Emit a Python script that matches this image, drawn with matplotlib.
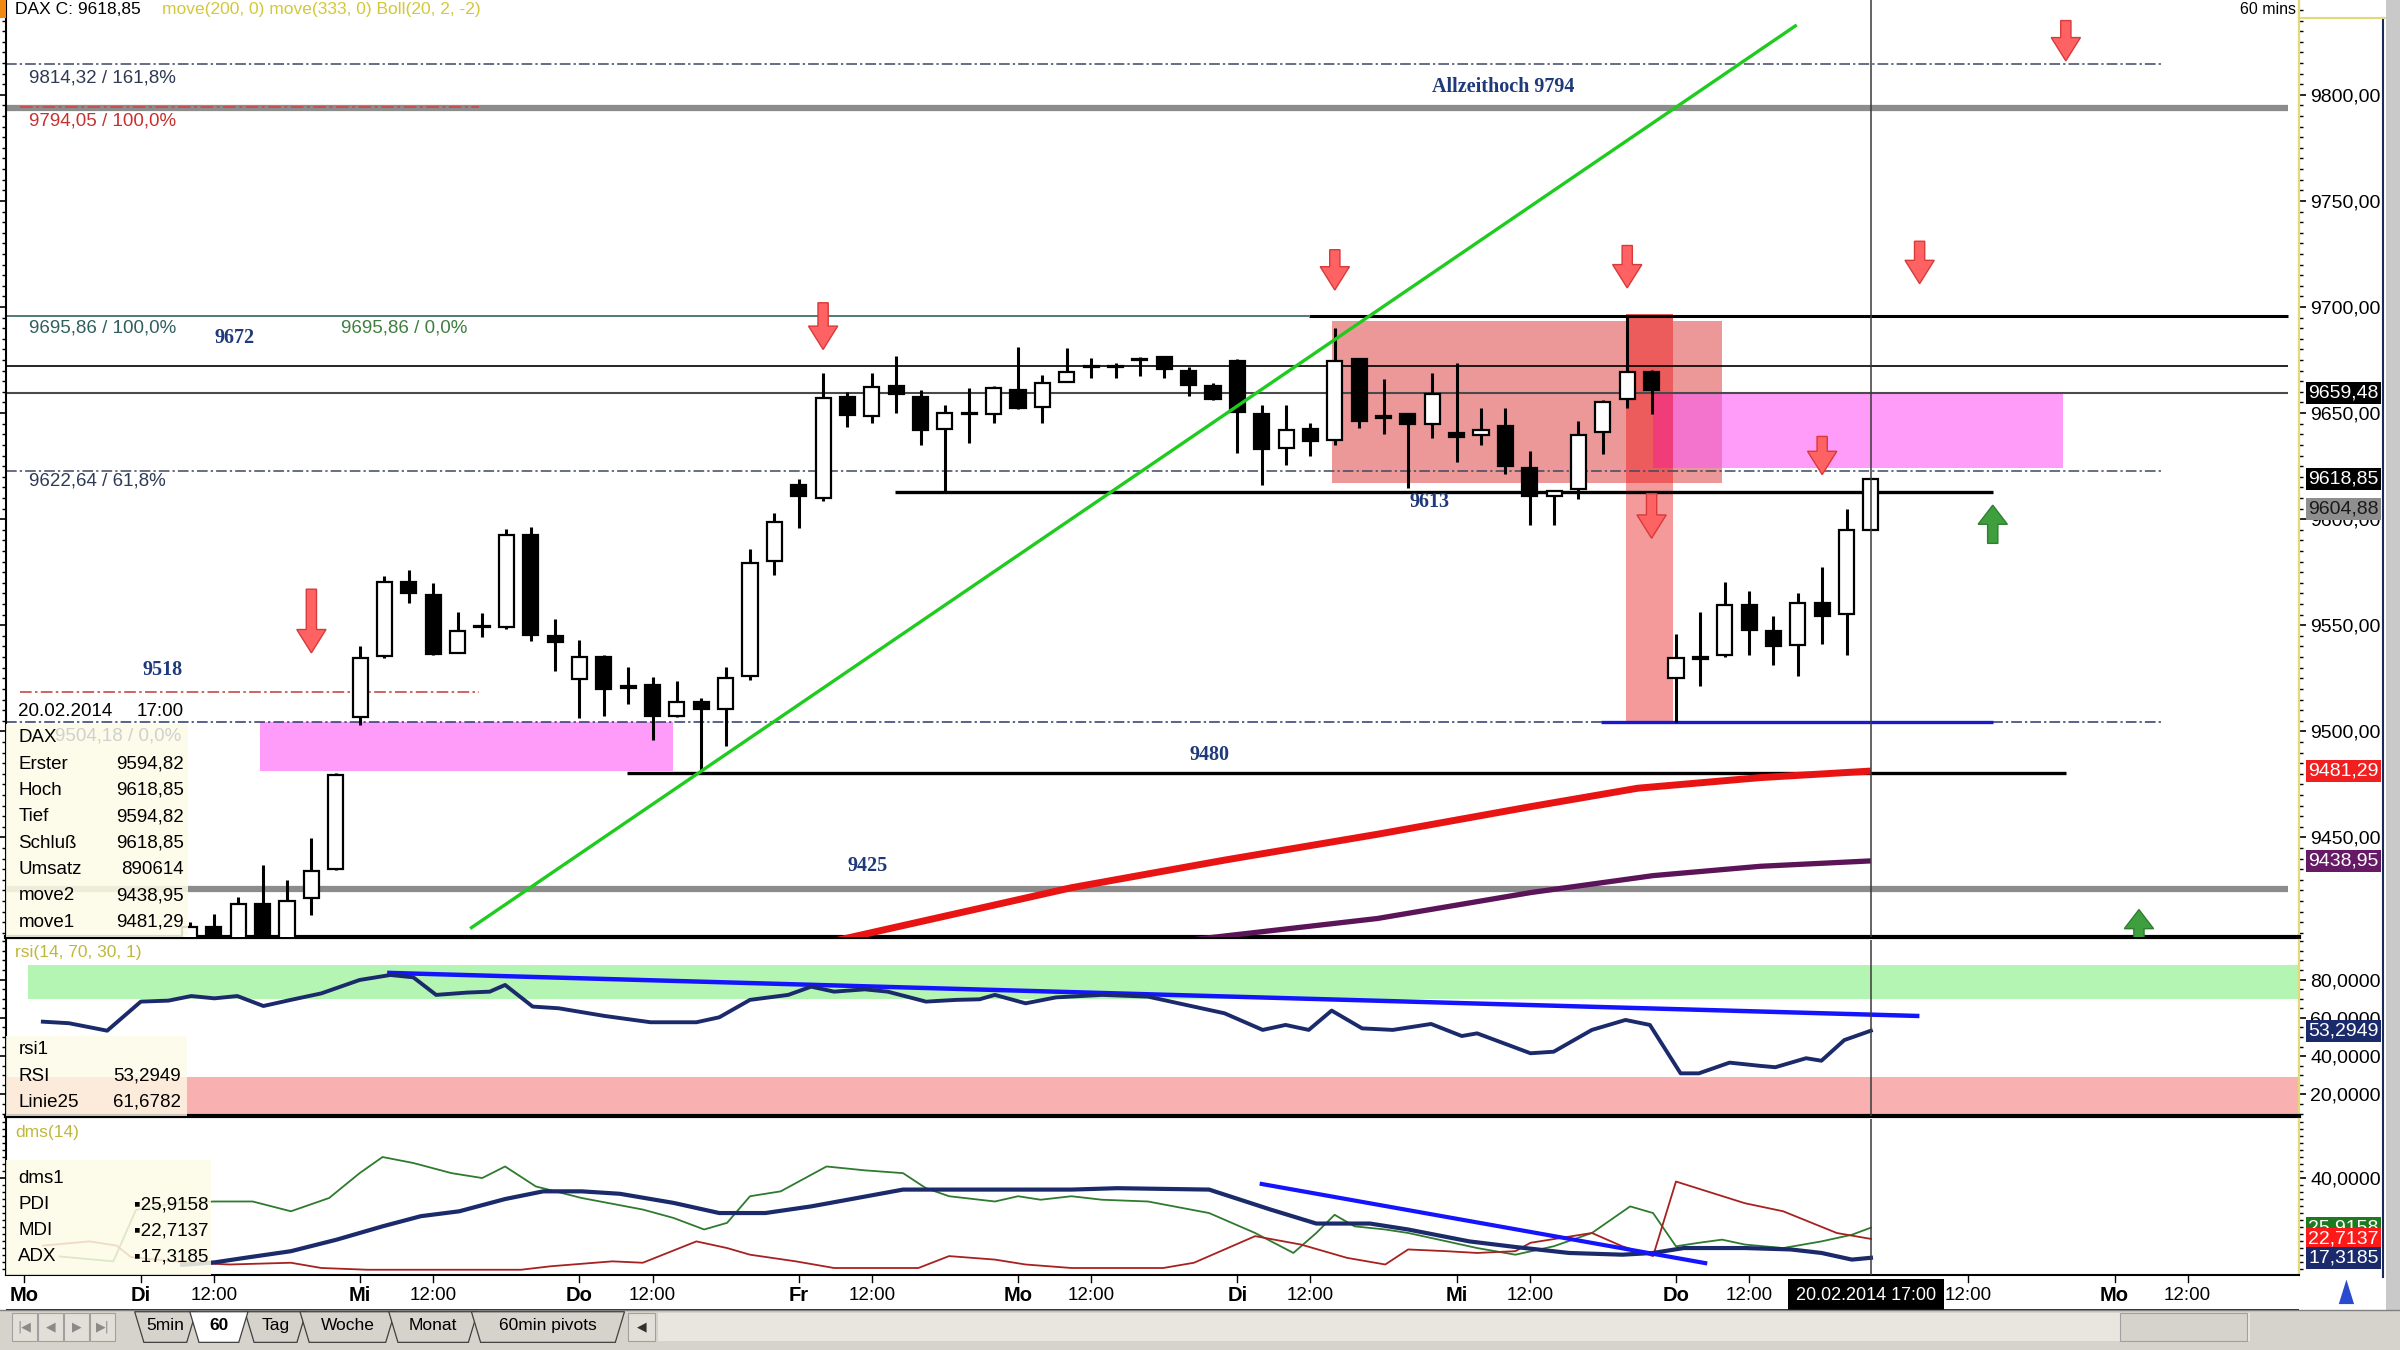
import matplotlib
matplotlib.use("Agg")
import numpy as np
import matplotlib.pyplot as plt
from matplotlib.patches import Rectangle, FancyArrow, Polygon
from matplotlib.ticker import MultipleLocator, FuncFormatter

plt.rcParams['font.family'] = ['Liberation Sans', 'DejaVu Sans']

# ---- values -------------------------------------------------------------
# hourly DAX candles, bar 9 = Tuesday 9:00, nine bars per trading day
bar_idx = list(range(11, 81))
opens = [9402, 9408, 9400, 9418.7, 9399, 9421.3, 9435.0, 9507.0, 9535.7, 9570.6,
         9564.3, 9536.8, 9549.0, 9549.1, 9592.6, 9545.1, 9524.6, 9535.2, 9520.5, 9521.9,
         9507.4, 9514.0, 9510.4, 9526.1, 9580.3, 9616.0, 9610.1, 9657.7, 9648.6, 9662.7,
         9657.7, 9642.3, 9649.6, 9649.4, 9660.9, 9653.0, 9664.8, 9672.2, 9672.2, 9675.6,
         9676.3, 9670.0, 9662.7, 9674.5, 9649.4, 9633.4, 9642.5, 9637.3, 9675.3, 9647.5,
         9649.4, 9644.8, 9640.8, 9639.6, 9643.9, 9624.2, 9610.9, 9614.3, 9641.0, 9656.7,
         9669.6, 9525.1, 9534.0, 9535.8, 9559.7, 9547.2, 9540.5, 9560.4, 9555.1, 9594.82]
highs = [9410, 9414, 9422, 9437, 9430, 9449.6, 9480.3, 9540.4, 9573.3, 9576.1,
         9569.8, 9556.4, 9555.7, 9595.4, 9596.2, 9553.0, 9543.1, 9536.0, 9530.1, 9525.5,
         9523.8, 9515.6, 9530.1, 9585.8, 9602.8, 9619.0, 9669.0, 9660.1, 9669.0, 9677.0,
         9660.9, 9653.8, 9662.0, 9662.8, 9681.3, 9667.9, 9680.5, 9676.1, 9673.5, 9676.6,
         9677.0, 9671.9, 9664.0, 9675.3, 9653.8, 9653.8, 9645.2, 9690.2, 9676.0, 9665.9,
         9649.4, 9669.0, 9673.4, 9652.2, 9652.3, 9632.1, 9613.1, 9646.5, 9656.3, 9695.2,
         9670.1, 9545.7, 9556.2, 9570.3, 9566.1, 9554.6, 9565.2, 9577.4, 9604.9, 9618.85]
lows = [9398, 9396, 9396, 9395, 9396, 9413.5, 9434.7, 9503.0, 9534.8, 9560.4,
        9536.0, 9536.8, 9544.3, 9548.1, 9542.6, 9528.5, 9506.2, 9507.3, 9512.8, 9496.0,
        9507.0, 9480.7, 9493.3, 9524.2, 9573.7, 9596.0, 9608.6, 9643.6, 9645.5, 9649.9,
        9635.0, 9613.0, 9635.7, 9645.5, 9652.0, 9645.5, 9664.5, 9666.7, 9666.7, 9667.6,
        9666.7, 9658.0, 9656.0, 9631.3, 9616.1, 9625.5, 9629.8, 9634.9, 9642.8, 9640.0,
        9614.5, 9638.4, 9627.1, 9634.9, 9621.4, 9597.4, 9597.4, 9609.6, 9630.8, 9652.3,
        9649.7, 9504.4, 9521.6, 9535.0, 9535.8, 9531.1, 9525.9, 9541.3, 9535.8, 9594.82]
closes = [9408, 9400, 9418.7, 9398, 9420, 9434.4, 9479.5, 9534.8, 9570.6, 9565.1,
          9536.3, 9547.3, 9549.8, 9592.6, 9545.5, 9542.0, 9534.9, 9520.0, 9521.5, 9507.4,
          9514.0, 9510.4, 9525.2, 9579.2, 9598.9, 9611.0, 9656.9, 9649.1, 9662.4, 9659.0,
          9642.0, 9650.2, 9650.2, 9661.7, 9652.5, 9664.3, 9669.5, 9671.8, 9671.6, 9675.0,
          9670.6, 9663.2, 9656.6, 9650.3, 9633.1, 9642.0, 9636.8, 9674.5, 9646.3, 9648.5,
          9644.8, 9658.8, 9638.6, 9642.0, 9625.0, 9610.7, 9613.1, 9639.8, 9655.2, 9669.3,
          9660.7, 9534.5, 9535.0, 9559.7, 9548.0, 9540.2, 9560.4, 9554.3, 9594.7, 9618.85]

# moving averages move1 (red) and move2 (purple)
ma1_x = [37.0, 47.19, 53.47, 59.75, 66.03, 70.43, 75.46, 80.0]
ma1_y = [9400.0, 9426.3, 9439.3, 9451.5, 9464.5, 9473.2, 9478.2, 9481.29]
ma2_x = [52.3, 59.75, 66.03, 71.06, 75.46, 80.0]
ma2_y = [9402.0, 9411.8, 9424.0, 9432.0, 9436.4, 9438.95]

# hand drawn green trend line
trend_x = [22.57, 76.9]
trend_y = [9407.5, 9832.5]

# RSI(14)
rsi_x = [4.98, 6.05, 7.62, 9.0, 10.13, 11.07, 12.02, 12.96, 14.03, 15.16,
         16.41, 17.98, 19.24, 20.18, 21.12, 22.38, 23.32, 23.95, 25.08, 26.15,
         28.03, 29.92, 31.8, 32.74, 34.0, 35.57, 36.51, 37.45, 38.71, 39.65,
         41.22, 42.48, 43.42, 44.05, 45.31, 46.56, 48.45, 50.33, 51.59, 53.47,
         55.04, 55.98, 56.93, 57.87, 59.12, 60.38, 61.95, 63.21, 63.84, 66.03,
         66.98, 68.55, 69.93, 70.93, 72.19, 72.94, 74.2, 75.46, 76.08, 77.34,
         77.97, 78.91, 80.0]
rsi_y = [58.0, 57.2, 53.3, 68.5, 69.0, 71.4, 70.2, 71.4, 66.2, 69.4,
         72.8, 79.8, 82.4, 81.2, 72.0, 73.2, 73.7, 77.2, 65.9, 65.0,
         61.0, 57.7, 57.7, 60.3, 69.4, 72.0, 76.3, 73.7, 74.9, 73.7,
         68.5, 69.4, 69.7, 72.0, 67.6, 70.7, 72.0, 71.1, 67.6, 62.4,
         53.7, 56.3, 53.7, 63.8, 54.5, 53.7, 56.8, 50.5, 51.9, 41.5,
         42.3, 53.7, 58.9, 56.3, 31.0, 31.0, 36.6, 34.9, 34.2, 38.9,
         37.6, 48.4, 53.29]
rsi_line_x = [19.2, 81.9]
rsi_line_y = [83.5, 61.0]

# DMS(14): ADX, PDI, MDI
adx_x = [10.7, 12.02, 13.27, 15.16, 17.04, 18.92, 20.49, 22.07, 23.95, 25.52,
         27.09, 28.66, 30.86, 32.74, 34.63, 36.51, 38.4, 40.28, 42.17, 47.19,
         49.07, 52.84, 55.36, 57.24, 59.44, 61.01, 63.52, 65.41, 67.61, 69.8,
         71.06, 72.32, 74.83, 76.71, 77.97, 79.22, 80.0]
adx_y = [15.3, 16.0, 17.3, 19.2, 22.5, 26.3, 29.2, 30.6, 34.1, 36.3,
         36.3, 35.6, 33.0, 30.1, 30.1, 32.0, 34.4, 36.8, 36.8, 36.8,
         37.2, 36.8, 31.1, 27.1, 27.1, 25.4, 22.0, 20.4, 18.7, 18.2,
         18.7, 20.1, 20.1, 19.7, 18.7, 16.8, 17.32]
pdi_x = [5.67, 7.87, 8.8, 10.5, 12.02, 13.59, 15.16, 16.73, 17.98, 18.92,
         20.18, 21.75, 23.01, 23.95, 25.21, 27.09, 29.6, 30.86, 32.12, 33.06,
         34.0, 35.26, 37.14, 38.71, 40.28, 41.22, 42.17, 44.05, 45.0, 45.93,
         47.19, 48.45, 50.33, 52.84, 54.73, 56.3, 57.24, 57.99, 58.81, 60.07,
         61.01, 62.27, 63.84, 65.41, 66.98, 68.55, 70.12, 71.06, 72.0, 72.94,
         73.89, 74.83, 76.4, 77.97, 79.22, 80.0]
pdi_y = [17.7, 16.3, 31.0, 33.0, 33.4, 33.4, 30.6, 34.4, 41.5, 46.1,
         44.4, 41.5, 40.1, 43.4, 37.7, 34.4, 31.1, 28.7, 25.4, 27.3,
         34.9, 36.3, 43.4, 42.3, 41.5, 37.2, 34.9, 33.4, 34.9, 33.9,
         34.9, 33.9, 33.4, 30.1, 24.4, 18.7, 24.4, 29.6, 26.3, 25.4,
         24.4, 22.5, 20.1, 18.2, 20.6, 24.4, 32.0, 30.1, 20.6, 21.6,
         22.5, 21.1, 20.1, 22.0, 23.9, 25.92]
mdi_x = [4.98, 6.9, 8.0, 8.6, 10.8, 12.64, 15.16, 16.41, 18.3, 24.6,
         25.83, 28.35, 29.6, 31.8, 33.06, 34.0, 35.88, 37.45, 40.91, 42.17,
         44.05, 45.31, 47.19, 50.96, 52.22, 54.73, 56.61, 58.5, 60.07, 61.01,
         62.58, 63.84, 65.41, 66.03, 67.29, 68.55, 69.8, 71.06, 72.0, 74.83,
         76.4, 78.6, 80.0]
mdi_y = [20.8, 22.0, 20.8, 17.5, 16.0, 15.4, 15.9, 14.4, 13.9, 13.9,
         14.9, 16.3, 15.9, 22.0, 20.1, 18.2, 16.3, 14.4, 14.4, 17.8,
         16.8, 15.4, 14.4, 14.4, 15.9, 23.5, 21.1, 17.3, 15.4, 19.7,
         19.2, 18.7, 19.2, 21.6, 23.0, 24.4, 20.6, 17.8, 39.1, 32.9,
         30.6, 24.4, 22.71]
dms_line_x = [55.0, 73.2]
dms_line_y = [38.4, 15.8]

# signal arrows: (bar, tail price, tip price)
arrows_down = [(16, 9567, 9537), (37, 9702, 9680), (58, 9727, 9708), (70, 9729, 9709),
               (82, 9731, 9711), (88, 9835, 9816), (71, 9612, 9591), (78, 9639, 9621)]
arrows_up = [(85, 9588.6, 9606.6), (91, 9402, 9416)]

# time axis (the Friday label sits under the cursor box in the screenshot)
time_pos = [4.2, 9, 12, 18, 21, 27, 30, 36, 39, 45, 48, 54, 57, 63, 66, 72, 75, 84, 90, 93]
time_lbl = ['Mo', 'Di', '12:00', 'Mi', '12:00', 'Do', '12:00', 'Fr', '12:00', 'Mo', '12:00',
            'Di', '12:00', 'Mi', '12:00', 'Do', '12:00', '12:00', 'Mo', '12:00']
cursor_bar = 80
cursor_lbl = '20.02.2014 17:00'

info_names = ['DAX', 'Erster', 'Hoch', 'Tief', 'Schluß', 'Umsatz', 'move2', 'move1']
info_vals = ['', '9594,82', '9618,85', '9594,82', '9618,85', '890614', '9438,95', '9481,29']
rsi_names = ['rsi1', 'RSI', 'Linie25']
rsi_vals = ['', '53,2949', '61,6782']
dms_names = ['dms1', 'PDI', 'MDI', 'ADX']
dms_vals = ['', '▪25,9158', '▪22,7137', '▪17,3185']

# ---- layout (pixel positions measured on the 1568 x 882 preview) --------
W, H = 1568.0, 882.0


def frame(x0, y0, x1, y1):
    return [x0 / W, 1 - y1 / H, (x1 - x0) / W, (y1 - y0) / H]


def bar_at(px):
    return 9 + (px - 92.0) / 15.92


XL = (bar_at(4), bar_at(1502))
comma2 = FuncFormatter(lambda v, p: f"{v:.2f}".replace('.', ','))
comma4 = FuncFormatter(lambda v, p: f"{v:.4f}".replace('.', ','))
SERIF = ['Liberation Serif', 'DejaVu Serif']
NAVY = '#1b2a6b'


def style_panel(a):
    a.set_xlim(XL)
    a.set_xticks([])
    a.yaxis.tick_right()
    a.tick_params(axis='y', which='both', direction='out', left=True, right=True,
                  labelleft=False, labelright=True, labelsize=14, pad=3)
    a.tick_params(axis='y', which='major', length=5, width=1.2)
    a.tick_params(axis='y', which='minor', length=3, width=1)
    a.spines['top'].set_visible(False)
    a.spines['right'].set_color('#e3d977')
    a.spines['right'].set_linewidth(1.6)
    a.spines['left'].set_linewidth(1.5)
    a.spines['bottom'].set_linewidth(3)


def value_box(a, y, text, fc, tc='white'):
    a.text(1.004, y, text, transform=a.get_yaxis_transform(), ha='left', va='center',
           fontsize=14, color=tc, clip_on=False, zorder=12,
           bbox=dict(boxstyle='square,pad=0.12', fc=fc, ec='none'))


fig = plt.figure(figsize=(24, 13.5), dpi=100)
fig.patch.set_facecolor('white')

# ---- price panel ---------------------------------------------------------
ax = fig.add_axes(frame(4, 0, 1502, 612))
style_panel(ax)
ax.set_ylim(9403.2, 9844.7)
ax.set_yticks(np.arange(9450, 9801, 50))
ax.yaxis.set_major_formatter(comma2)
ax.yaxis.set_minor_locator(MultipleLocator(5))

# zones
pink = '#ff9bf8'
ax.add_patch(Rectangle((13.9, 9481.5), 30.86 - 13.9, 9504.2 - 9481.5, fc=pink, ec='none', zorder=1))
ax.add_patch(Rectangle((57.87, 9617.0), 73.89 - 57.87, 9693.5 - 9617.0, fc='#ec9898', ec='none', zorder=1))
ax.add_patch(Rectangle((69.93, 9504.2), 71.88 - 69.93, 9617.0 - 9504.2, fc='#f49a9a', ec='none', zorder=1))
ax.add_patch(Rectangle((69.93, 9617.0), 71.88 - 69.93, 9696.5 - 9617.0, fc='#ec5c5c', ec='none', zorder=1.1))
ax.add_patch(Rectangle((71.06, 9624.0), 87.9 - 71.06, 9660.0 - 9624.0, fc=pink, ec='none', zorder=1.2))
ax.add_patch(Rectangle((71.06, 9624.0), 71.88 - 71.06, 9660.0 - 9624.0, fc='#f03c78', ec='none', zorder=1.3))
ax.add_patch(Rectangle((71.88, 9624.0), 73.89 - 71.88, 9660.0 - 9624.0, fc='#f274cc', ec='none', zorder=1.3))

# horizontal levels
dashdot = (0, (7, 2, 1.5, 2))
ax.hlines(9814.32, XL[0], 92, colors='#3a4660', linestyles=dashdot, lw=1.1, zorder=2)
ax.hlines(9794.0, XL[0], 97.1, colors='#8c8c8c', lw=4.5, zorder=2)
ax.hlines(9794.05, 4.04, 22.88, colors='#d04848', linestyles=dashdot, lw=1.3, zorder=2.1)
ax.hlines(9695.86, XL[0], 56.93, colors='#3f6f6f', lw=1.3, zorder=2)
ax.hlines(9695.86, 56.93, 97.1, colors='black', lw=2.2, zorder=2)
ax.hlines(9672.0, XL[0], 97.1, colors='black', lw=1.2, zorder=2)
ax.hlines(9659.48, XL[0], 97.1, colors='#4a4a4a', lw=1.5, zorder=2)
ax.hlines(9622.64, XL[0], 92, colors='#404860', linestyles=dashdot, lw=1.1, zorder=2)
ax.hlines(9613.0, 39.97, 85.0, colors='black', lw=2.4, zorder=2)
ax.hlines(9518.6, 4.04, 22.88, colors='#c84848', linestyles=dashdot, lw=1.2, zorder=2)
ax.hlines(9504.18, XL[0], 92, colors='#2a3a6a', linestyles=dashdot, lw=1.1, zorder=2)
ax.hlines(9504.18, 68.92, 85.0, colors='#1818d0', lw=2.4, zorder=2.1)
ax.hlines(9480.5, 28.97, 88.0, colors='black', lw=2.4, zorder=2)
ax.hlines(9425.5, XL[0], 97.1, colors='#8c8c8c', lw=4.5, zorder=2)

# level labels
ax.text(4.4, 9808, '9814,32 / 161,8%', color='#2f3a55', fontsize=13.5, va='center')
ax.text(4.4, 9787.5, '9794,05 / 100,0%', color='#c83030', fontsize=13.5, va='center')
ax.text(4.4, 9690.3, '9695,86 / 100,0%', color='#2f5f5f', fontsize=13.5, va='center')
ax.text(17.2, 9690.3, '9695,86 / 0,0%', color='#3f7f3f', fontsize=13.5, va='center')
ax.text(4.4, 9618.2, '9622,64 / 61,8%', color='#2f3a55', fontsize=13.5, va='center')
bold_lbls = [(64.9, 9803.5, 'Allzeithoch 9794'), (12.83, 9685.5, '9672'), (61.89, 9608.0, '9613'),
             (9.88, 9529.0, '9518'), (52.84, 9489.0, '9480'), (38.84, 9436.5, '9425')]
for bx, by, txt in bold_lbls:
    ax.text(bx, by, txt, family=SERIF, fontweight='bold', fontsize=14.5, color='#1f3a7a',
            ha='center', va='center', zorder=5)

# moving averages and trend line
ax.plot(ma2_x, ma2_y, color='#5c1458', lw=3.8, zorder=3, solid_capstyle='butt')
ax.plot(ma1_x, ma1_y, color='#e81414', lw=5.0, zorder=3, solid_capstyle='butt')
ax.plot(trend_x, trend_y, color='#1ecb1e', lw=2.4, zorder=6)

# candles
x = np.array(bar_idx)
o = np.array(opens)
c = np.array(closes)
up = c >= o
ax.vlines(x, lows, highs, colors='black', lw=2.2, zorder=4)
ax.bar(x[up], (c - o)[up], bottom=o[up], width=0.62, color='white', edgecolor='black',
       linewidth=1.6, zorder=5)
ax.bar(x[~up], (o - c)[~up], bottom=c[~up], width=0.62, color='black', edgecolor='black',
       linewidth=1.6, zorder=5)

# arrows
for bx, y0, y1 in arrows_down:
    ax.add_patch(FancyArrow(bx, y0, 0, y1 - y0, width=0.42, head_width=1.2, head_length=11,
                            length_includes_head=True, fc='#ff6262', ec='#d83a3a', lw=1, zorder=7))
for bx, y0, y1 in arrows_up:
    ax.add_patch(FancyArrow(bx, y0, 0, y1 - y0, width=0.42, head_width=1.2, head_length=9,
                            length_includes_head=True, fc='#3f9f3f', ec='#2f7f2f', lw=1, zorder=7))

ax.axvline(cursor_bar, color='#3a3a3a', lw=1.1, zorder=8)

value_box(ax, 9659.48, '9659,48', 'black')
value_box(ax, 9618.85, '9618,85', 'black')
value_box(ax, 9604.88, '9604,88', '#8e8e8e', '#1a1a1a')
value_box(ax, 9481.29, '9481,29', '#f02020')
value_box(ax, 9438.95, '9438,95', '#661a66')

# ---- RSI panel -----------------------------------------------------------
ar = fig.add_axes(frame(4, 614, 1502, 729))
style_panel(ar)
ar.set_ylim(8.8, 100.8)
ar.set_yticks([20, 40, 60, 80])
ar.yaxis.set_major_formatter(comma4)
ar.yaxis.set_minor_locator(MultipleLocator(5))
ar.fill_between([bar_at(18), XL[1]], 70, 87.5, color='#b4f5b4', lw=0, zorder=0)
ar.fill_between([XL[0], XL[1]], 8.8, 29, color='#f9b0b0', lw=0, zorder=0)
ar.plot(rsi_line_x, rsi_line_y, color='#1414ff', lw=3.2, zorder=3, clip_on=False)
ar.plot(rsi_x, rsi_y, color=NAVY, lw=2.8, zorder=4)
ar.axvline(cursor_bar, color='#3a3a3a', lw=1.1, zorder=8)
value_box(ar, 53.2949, '53,2949', NAVY)

# ---- DMS panel -----------------------------------------------------------
ad = fig.add_axes(frame(4, 731, 1502, 833))
style_panel(ad)
ad.spines['bottom'].set_linewidth(1.5)
ad.set_ylim(12.4, 57.0)
ad.set_yticks([40])
ad.yaxis.set_major_formatter(comma4)
ad.yaxis.set_minor_locator(MultipleLocator(2))
ad.plot(pdi_x, pdi_y, color='#2e7a2e', lw=1.3, zorder=3)
ad.plot(mdi_x, mdi_y, color='#a82020', lw=1.3, zorder=3)
ad.plot(adx_x, adx_y, color=NAVY, lw=3.0, zorder=4)
ad.plot(dms_line_x, dms_line_y, color='#1414ff', lw=3.0, zorder=5)
ad.axvline(cursor_bar, color='#3a3a3a', lw=1.1, zorder=8)
value_box(ad, 25.9158, '25,9158', '#1e7a1e')
value_box(ad, 22.7137, '22,7137', '#ff1a1a')
value_box(ad, 17.3185, '17,3185', NAVY)

# ---- time axis -----------------------------------------------------------
at = fig.add_axes(frame(4, 833, 1502, 856))
at.set_xlim(XL)
at.set_ylim(0, 1)
at.set_xticks([])
at.set_yticks([])
for s in at.spines.values():
    s.set_visible(False)
at.axhline(1, color='black', lw=1.5)
at.axhline(0, color='black', lw=1.2)
for pos, lab in zip(time_pos, time_lbl):
    at.plot([pos, pos], [1, 0.8], color='black', lw=1)
    is_day = ':' not in lab
    at.text(pos, 0.42, lab, ha='center', va='center', fontsize=14.5 if is_day else 13.5,
            fontweight='bold' if is_day else 'normal')
at.text(cursor_bar - 0.2, 0.42, cursor_lbl, ha='center', va='center', fontsize=13, color='white',
        zorder=6, bbox=dict(boxstyle='square,pad=0.45', fc='black', ec='none'))

# ---- window chrome, info boxes -------------------------------------------
ui = fig.add_axes([0, 0, 1, 1], zorder=20)
ui.set_xlim(0, W)
ui.set_ylim(H, 0)
ui.axis('off')
ui.patch.set_visible(False)

ui.add_patch(Rectangle((0, 0), 4, 12, fc='#f08a10', ec='none'))
ui.text(10, 6, 'DAX C: 9618,85', fontsize=12.5, va='center', color='black')
ui.text(106, 6, 'move(200, 0) move(333, 0) Boll(20, 2, -2)', fontsize=12.5, va='center', color='#d2c83a')
ui.text(1500, 6, '60 mins', fontsize=11.5, va='center', ha='right', color='black')
ui.text(10, 622, 'rsi(14, 70, 30, 1)', fontsize=12.5, va='center', color='#c0b83a')
ui.text(10, 740, 'dms(14)', fontsize=12.5, va='center', color='#c0b83a')

# main info box
ui.text(12, 465, '20.02.2014', fontsize=13.5, va='center')
ui.text(120, 465, '17:00', fontsize=13.5, va='center', ha='right')
ui.add_patch(Rectangle((4, 473), 119, 139, fc='#fdfbe6', ec='none', alpha=0.88))
ui.text(36, 481, '9504,18 / 0,0%', fontsize=13.5, va='center', color='#d0d0d0')
for k, (nm, vl) in enumerate(zip(info_names, info_vals)):
    yy = 482 + k * 17.2
    ui.text(12, yy, nm, fontsize=13.5, va='center')
    ui.text(120, yy, vl, fontsize=13.5, va='center', ha='right')

ui.add_patch(Rectangle((4, 677), 118, 52, fc='#fdfbe6', ec='none', alpha=0.8))
for k, (nm, vl) in enumerate(zip(rsi_names, rsi_vals)):
    yy = 686 + k * 17
    ui.text(12, yy, nm, fontsize=13.5, va='center')
    ui.text(118, yy, vl, fontsize=13.5, va='center', ha='right')

ui.add_patch(Rectangle((4, 758), 134, 75, fc='#fdfbe6', ec='none', alpha=0.85))
for k, (nm, vl) in enumerate(zip(dms_names, dms_vals)):
    yy = 770 + k * 17
    ui.text(12, yy, nm, fontsize=13.5, va='center')
    ui.text(136, yy, vl, fontsize=13.5, va='center', ha='right')

# right edge of the window
ui.plot([1557, 1557], [12, 834], color='#1a2a5a', lw=1.5)
ui.add_patch(Rectangle((1559, 0), 9, H, fc='#c9c9c9', ec='none'))
ui.plot([1502, 1558], [12, 12], color='#e3d977', lw=1.5)
ui.add_patch(Polygon([(1528, 852), (1533, 836), (1538, 852)], closed=True, fc='#2a4ad0', ec='none'))

# tab bar
ui.add_patch(Rectangle((0, 856), W, 26, fc='#d6d3cc', ec='none'))
ui.plot([0, W], [856, 856], color='#808080', lw=1)
for bx, glyph in zip([8, 25, 42, 59], ['|◀', '◀', '▶', '▶|']):
    ui.add_patch(Rectangle((bx, 858), 16, 18, fc='#e2dfd8', ec='#a0a0a0', lw=0.8))
    ui.text(bx + 8, 867, glyph, fontsize=9, ha='center', va='center', color='#8a8a8a',
            family=['DejaVu Sans'])
tabs = [('5min', 88, 128), ('60', 124, 162), ('Tag', 160, 200), ('Woche', 196, 258),
        ('Monat', 254, 312), ('60min pivots', 308, 408)]
for name, x0, x1 in tabs:
    sel = name == '60'
    ui.add_patch(Polygon([(x0, 857), (x1, 857), (x1 - 6, 877), (x0 + 6, 877)], closed=True,
                         fc='white' if sel else '#d6d3cc', ec='#404040', lw=0.9, zorder=3 if sel else 2))
    ui.text((x0 + x1) / 2, 866, name, fontsize=12.5, ha='center', va='center',
            fontweight='bold' if sel else 'normal', zorder=4)
ui.add_patch(Rectangle((410, 858), 18, 18, fc='#e2dfd8', ec='#a0a0a0', lw=0.8))
ui.text(419, 867, '◀', fontsize=9, ha='center', va='center', color='#303030', family=['DejaVu Sans'])
ui.add_patch(Rectangle((430, 858), 1040, 18, fc='#e9e6e0', ec='none'))
ui.add_patch(Rectangle((1385, 858), 83, 18, fc='#d6d3cc', ec='#a0a0a0', lw=0.8))

fig.savefig('out.png', dpi=100)
